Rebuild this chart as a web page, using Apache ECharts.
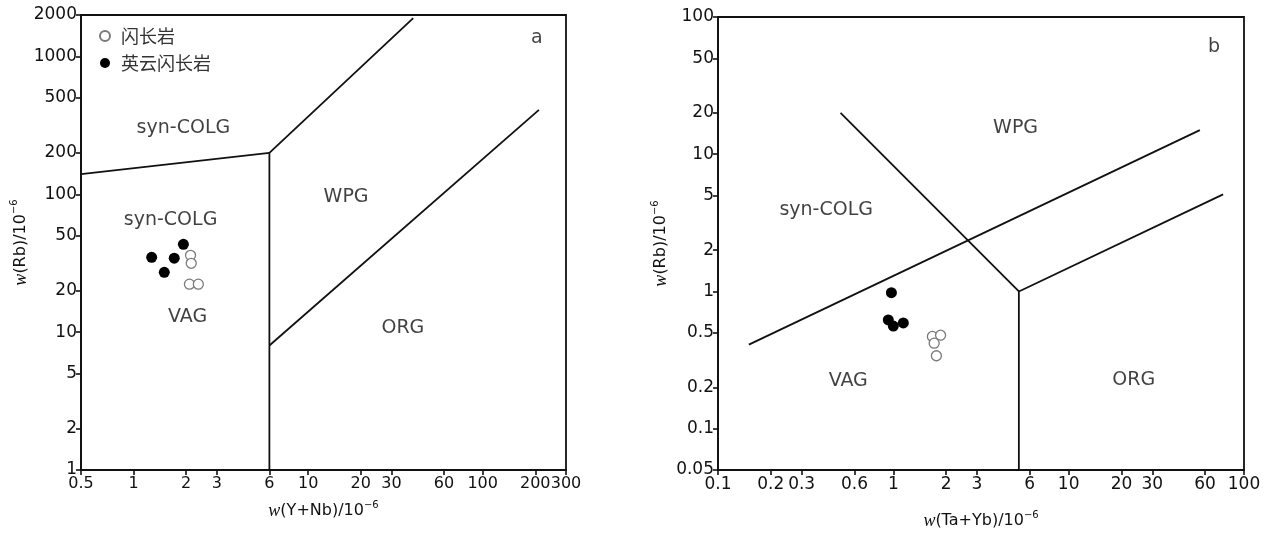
<!DOCTYPE html>
<html>
<head>
<meta charset="utf-8">
<script src="https://cdn.jsdelivr.net/npm/echarts@6/dist/echarts.min.js"></script>
<style>
html,body{margin:0;padding:0;background:#fff;}
#c{width:1266px;height:535px;}
</style>
</head>
<body>
<div id="c"></div>
<script>
// ---- tick labels ----
const xTicksA = [0.5, 1, 2, 3, 6, 10, 20, 30, 60, 100, 200, 300];
const yTicksA = [1, 2, 5, 10, 20, 50, 100, 200, 500, 1000, 2000];
const xTicksB = [0.1, 0.2, 0.3, 0.6, 1, 2, 3, 6, 10, 20, 30, 60, 100];
const yTicksB = [0.05, 0.1, 0.2, 0.5, 1, 2, 5, 10, 20, 50, 100];

// ---- samples (x, Rb) ----
const dioriteA  = [[2.12, 36.1], [2.14, 31.6], [2.09, 22.3], [2.35, 22.3]];
const tonaliteA = [[1.27, 34.9], [1.50, 27.2], [1.71, 34.4], [1.93, 43.4]];
const dioriteB  = [[1.67, 0.47], [1.86, 0.48], [1.71, 0.42], [1.76, 0.34]];
const tonaliteB = [[0.975, 0.98], [0.936, 0.62], [1.00, 0.56], [1.14, 0.59]];

// ---- discrimination boundaries ----
const boundA1 = [[0.5, 140], [6, 200]];
const boundA2 = [[6, 1], [6, 200], [40, 1900]];
const boundA3 = [[6, 8], [210, 410]];
const boundB1 = [[0.5, 20], [5.2, 1], [5.2, 0.05]];
const boundB2 = [[0.15, 0.41], [56, 15]];
const boundB3 = [[5.2, 1], [76, 5.1]];

// ---- field labels ----
const fieldLabelsA = [
  {name: 'syn-COLG', value: [1.93, 301]},
  {name: 'syn-COLG', value: [1.63, 64.8]},
  {name: 'VAG', value: [2.04, 12.8]},
  {name: 'WPG', value: [16.5, 95]},
  {name: 'ORG', value: [34.9, 10.7]},
  {name: 'a', value: [204, 1350]}
];
const fieldLabelsB = [
  {name: 'WPG', value: [4.98, 15.4]},
  {name: 'syn-COLG', value: [0.414, 3.93]},
  {name: 'VAG', value: [0.553, 0.223]},
  {name: 'ORG', value: [23.5, 0.226]},
  {name: 'b', value: [67.5, 60.6]}
];

const seriesNames = ['闪长岩', '英云闪长岩'];

const FONT = 'DejaVu Sans';
const INK = '#111';
const fmt = v => String(Math.round(v * 1000) / 1000);

function logAxis(gridIndex, min, max, ticks, name, isX, nameGap, labelSize) {
  return {
    type: 'log', logBase: 10, gridIndex, min, max,
    name, nameLocation: 'middle', nameGap,
    nameTextStyle: {
      color: INK, fontFamily: FONT, fontSize: 16,
      rich: {
        i: {fontFamily: 'Liberation Serif', fontStyle: 'italic', fontSize: 18, color: INK},
        t: {fontFamily: FONT, fontSize: 16, color: INK},
        s: {fontFamily: FONT, fontSize: 10, color: INK, verticalAlign: 'top', lineHeight: 22}
      }
    },
    axisLine: {show: true, onZero: false, lineStyle: {color: INK, width: 1.8}},
    axisTick: {show: true, inside: false, length: 5, customValues: ticks, lineStyle: {color: INK, width: 1.6}},
    axisLabel: {show: true, customValues: ticks, formatter: fmt, color: INK, fontFamily: FONT, fontSize: labelSize || 17,
      margin: isX ? 6 : 4, interval: 0, hideOverlap: false, showMinLabel: true, showMaxLabel: true},
    minorTick: {show: false},
    splitLine: {show: false}
  };
}

function labelSeries(xi, data) {
  return {
    type: 'scatter', xAxisIndex: xi, yAxisIndex: xi, data,
    symbol: 'circle', symbolSize: 1, silent: true,
    itemStyle: {color: 'rgba(0,0,0,0)'},
    label: {show: true, position: 'inside', formatter: '{b}', color: INK, fontFamily: FONT, fontSize: 19},
    z: 5
  };
}
function lineSeries(xi, data) {
  return {
    type: 'line', xAxisIndex: xi, yAxisIndex: xi, data,
    symbol: 'none', silent: true, clip: true,
    lineStyle: {color: INK, width: 1.8}, z: 3
  };
}
function openSeries(xi, data) {
  return {
    name: seriesNames[0], type: 'scatter', xAxisIndex: xi, yAxisIndex: xi, data,
    symbol: 'circle', symbolSize: 10,
    itemStyle: {color: '#fff', borderColor: '#7a7a7a', borderWidth: 1.3, opacity: 1}, z: 6
  };
}
function filledSeries(xi, data) {
  return {
    name: seriesNames[1], type: 'scatter', xAxisIndex: xi, yAxisIndex: xi, data,
    symbol: 'circle', symbolSize: 11,
    itemStyle: {color: '#000', opacity: 1}, z: 6
  };
}

const chart = echarts.init(document.getElementById('c'), null, {renderer: 'canvas'});
chart.setOption({
  backgroundColor: '#fff',
  animation: false,
  legend: {
    data: seriesNames, orient: 'vertical', left: 94, top: 22,
    itemWidth: 10, itemHeight: 10, itemGap: 9, icon: 'circle',
    textStyle: {color: '#333', fontFamily: 'Noto Sans CJK SC', fontSize: 18, padding: [0, 0, 0, 6]},
    selectedMode: false
  },
  grid: [
    {left: 81, top: 15, width: 485, height: 455, show: true, borderColor: INK, borderWidth: 1.8, backgroundColor: 'transparent'},
    {left: 718, top: 17, width: 526, height: 456, show: true, borderColor: INK, borderWidth: 1.8, backgroundColor: 'transparent'}
  ],
  xAxis: [
    logAxis(0, 0.5, 300, xTicksA, '{i|w}{t|(Y+Nb)/10}{s|−6}', true, 30, 16),
    logAxis(1, 0.1, 100, xTicksB, '{i|w}{t|(Ta+Yb)/10}{s|−6}', true, 40)
  ],
  yAxis: [
    logAxis(0, 1, 2000, yTicksA, '{i|w}{t|(Rb)/10}{s|−6}', false, 49),
    logAxis(1, 0.05, 100, yTicksB, '{i|w}{t|(Rb)/10}{s|−6}', false, 46)
  ],
  series: [
    lineSeries(0, boundA1), lineSeries(0, boundA2), lineSeries(0, boundA3),
    lineSeries(1, boundB1), lineSeries(1, boundB2), lineSeries(1, boundB3),
    labelSeries(0, fieldLabelsA), labelSeries(1, fieldLabelsB),
    openSeries(0, dioriteA), filledSeries(0, tonaliteA),
    openSeries(1, dioriteB), filledSeries(1, tonaliteB)
  ]
});
</script>
</body>
</html>
